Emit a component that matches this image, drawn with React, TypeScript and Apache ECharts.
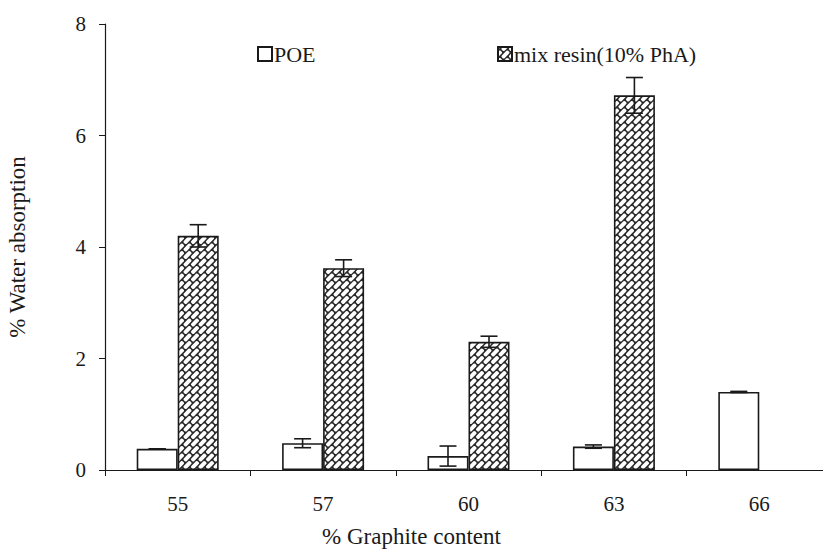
import React, { useEffect, useRef } from 'react';
import * as echarts from 'echarts';

const categories = ['55', '57', '60', '63', '66'];
const poeValues = [0.38, 0.48, 0.25, 0.42, 1.4];
const poeErrors = [0, 0.08, 0.18, 0.03, 0.01];
const mixValues: (number | null)[] = [4.2, 3.62, 2.3, 6.72, null];
const mixErrors: (number | null)[] = [0.2, 0.15, 0.1, 0.32, null];
const yMin = 0;
const yMax = 8;
const yInterval = 2;

const FONT = '"Liberation Serif", "Times New Roman", serif';
const INK = '#1a1a1a';
const BAR_W = 41;

function makeBrickPattern(): HTMLCanvasElement {
  const s = 7.5;
  const size = s * 2;
  const c = document.createElement('canvas');
  c.width = size;
  c.height = size;
  const ctx = c.getContext('2d')!;
  ctx.fillStyle = '#2a2a2a';
  ctx.fillRect(0, 0, size, size);
  const len = s * Math.SQRT2;
  const wid = (s * Math.SQRT2) / 2;
  ctx.fillStyle = '#fff';
  for (let i = -1; i <= 3; i++) {
    for (let j = -1; j <= 3; j++) {
      const cx = i * s;
      const cy = j * s;
      ctx.save();
      ctx.translate(cx, cy);
      ctx.rotate(-Math.PI / 4);
      const l = len - 1.6;
      const w = wid - 1.4;
      const r = 1.3;
      ctx.beginPath();
      ctx.moveTo(-l / 2 + r, -w / 2);
      ctx.lineTo(l / 2 - r, -w / 2);
      ctx.quadraticCurveTo(l / 2, -w / 2, l / 2, -w / 2 + r);
      ctx.lineTo(l / 2, w / 2 - r);
      ctx.quadraticCurveTo(l / 2, w / 2, l / 2 - r, w / 2);
      ctx.lineTo(-l / 2 + r, w / 2);
      ctx.quadraticCurveTo(-l / 2, w / 2, -l / 2, w / 2 - r);
      ctx.lineTo(-l / 2, -w / 2 + r);
      ctx.quadraticCurveTo(-l / 2, -w / 2, -l / 2 + r, -w / 2);
      ctx.closePath();
      ctx.fill();
      ctx.restore();
    }
  }
  return c;
}

export default function App() {
  const ref = useRef<HTMLDivElement>(null);

  useEffect(() => {
    document.body.style.margin = '0';
    if (!ref.current) return;
    const chart = echarts.init(ref.current, undefined, { renderer: 'svg' });
    const pattern = makeBrickPattern();

    const errData: any[] = [];
    poeValues.forEach((v, i) => errData.push([i, v, poeErrors[i], -BAR_W / 2]));
    mixValues.forEach((v, i) => {
      if (v != null && mixErrors[i] != null) errData.push([i, v, mixErrors[i], BAR_W / 2]);
    });

    const legendText = { fontFamily: FONT, fontSize: 22, color: INK, padding: [0, 0, 0, -3] };

    const option: any = {
      animation: false,
      backgroundColor: '#fff',
      textStyle: { fontFamily: FONT, color: INK },
      grid: {
        left: 105,
        width: 727,
        top: 24,
        bottom: 79,
        containLabel: false,
        outerBoundsMode: 'none',
      },
      legend: [
        {
          data: ['POE'],
          left: 252,
          top: 38,
          icon: 'rect',
          itemWidth: 14,
          itemHeight: 14,
          textStyle: legendText,
        },
        {
          data: ['mix resin(10% PhA)'],
          left: 492,
          top: 38,
          icon: 'rect',
          itemWidth: 14,
          itemHeight: 14,
          textStyle: legendText,
        },
      ],
      xAxis: {
        type: 'category',
        data: categories,
        name: '% Graphite content',
        nameLocation: 'middle',
        nameGap: 55,
        nameTextStyle: { fontFamily: FONT, fontSize: 23, color: INK, padding: [0, 114, 0, 0] },
        axisLine: { lineStyle: { color: INK, width: 1.2 } },
        axisTick: { show: true, length: 6, lineStyle: { color: INK } },
        axisLabel: { fontFamily: FONT, fontSize: 21, color: INK, margin: 23 },
        splitLine: { show: false },
      },
      yAxis: {
        type: 'value',
        min: yMin,
        max: yMax,
        interval: yInterval,
        name: '% Water absorption',
        nameLocation: 'middle',
        nameGap: 76,
        nameRotate: 90,
        nameTextStyle: { fontFamily: FONT, fontSize: 23, color: INK },
        axisLine: { show: true, lineStyle: { color: INK, width: 1.2 } },
        axisTick: { show: true, length: 6, lineStyle: { color: INK } },
        axisLabel: { fontFamily: FONT, fontSize: 21, color: INK, margin: 19 },
        splitLine: { show: false },
      },
      series: [
        {
          name: 'POE',
          type: 'bar',
          data: poeValues,
          barWidth: BAR_W,
          barGap: '0%',
          itemStyle: { color: '#fff', borderColor: INK, borderWidth: 1.6 },
        },
        {
          name: 'mix resin(10% PhA)',
          type: 'bar',
          data: mixValues.map((v) => (v == null ? '-' : v)),
          barWidth: BAR_W,
          barGap: '0%',
          itemStyle: {
            color: { image: pattern, repeat: 'repeat' },
            borderColor: INK,
            borderWidth: 1.6,
          },
        },
        {
          name: 'err',
          type: 'custom',
          data: errData,
          z: 10,
          silent: true,
          renderItem: (params: any, api: any) => {
            const i = api.value(0);
            const v = api.value(1);
            const e = api.value(2);
            const off = api.value(3);
            const top = api.coord([i, v + e]);
            const bot = api.coord([i, v - e]);
            const x = top[0] + off;
            const cap = 8.5;
            const style = { stroke: INK, lineWidth: 1.6, fill: 'none' };
            return {
              type: 'group',
              children: [
                { type: 'line', shape: { x1: x, y1: top[1], x2: x, y2: bot[1] }, style },
                { type: 'line', shape: { x1: x - cap, y1: top[1], x2: x + cap, y2: top[1] }, style },
                { type: 'line', shape: { x1: x - cap, y1: bot[1], x2: x + cap, y2: bot[1] }, style },
              ],
            };
          },
        },
      ],
    };
    chart.setOption(option);
    return () => chart.dispose();
  }, []);

  return <div ref={ref} style={{ width: 823, height: 549 }} />;
}
